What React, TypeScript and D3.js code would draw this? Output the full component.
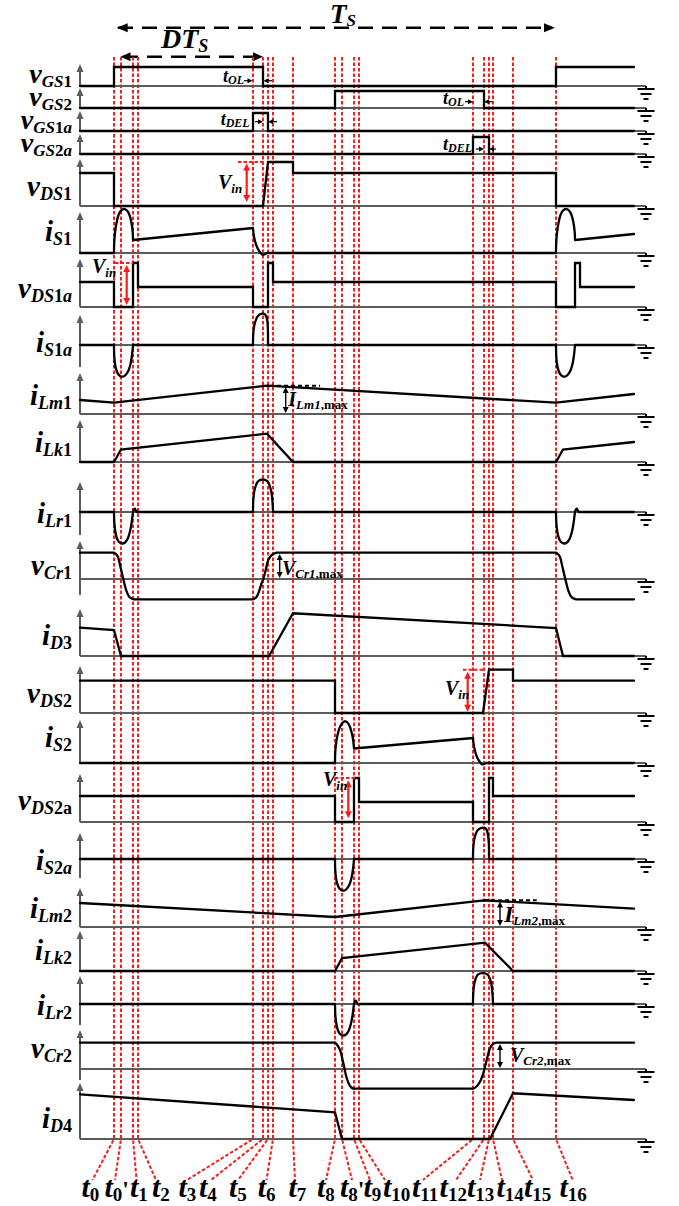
import React from 'react';
import * as d3 from 'd3';

type Pt = [number, number];
type Piece = ['L' | 'C', Pt[]];

// ---------- DATA ----------
// switching instants t0 ... t16 (time units)
const eventTimes = [0, 7, 19, 24, 139, 149, 154, 159, 179, 221, 228, 240, 245, 359, 370, 375, 379, 399, 442];
const eventLabels = ['0', "0'", '1', '2', '3', '4', '5', '6', '7', '8', "8'", '9', '10', '11', '12', '13', '14', '15', '16'];

const vGS1: Piece[] = [['L', [[-34, 0], [0, 0], [0, 19], [149, 19], [149, 0], [442, 0], [442, 19], [520, 19]]]];
const vGS2: Piece[] = [['L', [[-34, 0], [221, 0], [221, 17], [370, 17], [370, 0], [520, 0]]]];
const vGS1a: Piece[] = [['L', [[-34, 0], [139, 0], [139, 18], [154, 18], [154, 0], [520, 0]]]];
const vGS2a: Piece[] = [['L', [[-34, 0], [359, 0], [359, 17], [375, 17], [375, 0], [520, 0]]]];
const vDS1: Piece[] = [['L', [[-34, 33], [0, 33], [0, 0], [149, 0], [154, 44], [179, 44], [179, 33], [442, 33], [442, 0], [520, 0]]]];
const iS1: Piece[] = [
  ['L', [[-34, 0], [0, 0]]],
  ['C', [[0, 0], [0.2, 10], [1, 20], [2.5, 30], [4.5, 38], [7, 42.5], [10, 44], [13, 42.5], [15.5, 38], [17.5, 30], [18.7, 21], [19, 13]]],
  ['L', [[19, 13], [139, 25]]],
  ['C', [[139, 25], [139.6, 19], [141, 12], [143, 6], [145.5, 1.5], [148, -1.5], [150.5, -1.5], [152.5, -0.3], [154, 0]]],
  ['L', [[154, 0], [442, 0]]],
  ['C', [[442, 0], [442.2, 10], [443, 20], [444.5, 30], [446.5, 38], [449, 42.5], [452, 44], [455, 42.5], [457.5, 38], [459.5, 30], [460.7, 21], [461, 13]]],
  ['L', [[461, 13], [520, 19]]],
];
const vDS1a: Piece[] = [['L', [[-34, 25], [0, 25], [0, 0], [19, 0], [19, 44], [24, 44], [24, 20], [139, 20], [139, 0], [154, 0], [154, 44], [159, 44], [159, 25], [442, 25], [442, 0], [461, 0], [461, 44], [466, 44], [466, 20], [520, 20]]]];
const iS1a: Piece[] = [
  ['L', [[-34, 0], [0, 0]]],
  ['C', [[0, 0], [0.2, -10], [1, -19], [2.5, -25.5], [4.5, -29.5], [7, -31.5], [9.5, -31.5], [12, -29.5], [14.5, -25.5], [16.5, -19], [18, -10], [19, 0]]],
  ['L', [[19, 0], [139, 0]]],
  ['C', [[139, 0], [139.2, 10], [140, 18], [141.5, 24], [143.5, 28.5], [146, 30.8], [149, 31.3], [151.5, 30], [153.2, 25], [153.9, 16], [154, 8], [154, 0]]],
  ['L', [[154, 0], [442, 0]]],
  ['C', [[442, 0], [442.2, -10], [443, -19], [444.5, -25.5], [446.5, -29.5], [449, -31.5], [451.5, -31.5], [454, -29.5], [456.5, -25.5], [458.5, -19], [460, -10], [461, 0]]],
  ['L', [[461, 0], [520, 0]]],
];
const iLm1: Piece[] = [['L', [[-34, 14], [0, 11.3], [153, 28.3], [442, 11.3], [520, 20]]]];
const iLk1: Piece[] = [['L', [[-34, 0], [0, 0], [7, 12.5], [153, 28.3], [179, 0], [442, 0], [449, 12.5], [520, 20]]]];
const iLr1: Piece[] = [
  ['L', [[-34, 0], [0, 0]]],
  ['C', [[0, 0], [0.3, -10], [1.2, -19], [2.8, -26], [5, -30], [8, -31.5], [11, -30.5], [13.8, -26.5], [16, -19.5], [17.6, -11], [18.6, -3], [19.5, 2], [20.8, 3.3], [21.8, 1.5], [22.6, 0]]],
  ['L', [[22.6, 0], [139, 0]]],
  ['C', [[139, 0], [139.2, 10], [140, 19], [141.5, 25.5], [143.5, 30], [146, 32], [148.7, 32.5], [151.5, 32], [154, 30], [156, 25.5], [157.5, 19], [158.5, 10], [159, 0]]],
  ['L', [[159, 0], [442, 0]]],
  ['C', [[442, 0], [442.3, -10], [443.2, -19], [444.8, -26], [447, -30], [450, -31.5], [453, -30.5], [455.8, -26.5], [458, -19.5], [459.6, -11], [460.6, -3], [461.5, 2], [462.8, 3.3], [463.8, 1.5], [464.6, 0]]],
  ['L', [[464.6, 0], [520, 0]]],
];
const vCr1: Piece[] = [
  ['L', [[-34, 26.3], [0, 26.3]]],
  ['C', [[0, 26.3], [2, 25], [4, 22], [6, 14], [9.3, 0], [12.7, -12.7], [15, -17.5], [17.7, -19.6], [20, -20.3]]],
  ['L', [[20, -20.3], [139, -20.3]]],
  ['C', [[139, -20.3], [142.7, -17.7], [147.7, -4], [149.3, 0], [151.7, 9], [154.3, 19], [157.7, 24], [162.7, 26.3]]],
  ['L', [[162.7, 26.3], [442, 26.3]]],
  ['C', [[442, 26.3], [444, 25], [446, 22], [448, 14], [451.3, 0], [454.7, -12.7], [457, -17.5], [459.7, -19.6], [462, -20.3]]],
  ['L', [[462, -20.3], [520, -20.3]]],
];
const iD3: Piece[] = [['L', [[-34, 28.3], [0, 26], [7, 0], [155, 0], [179, 42.7], [442, 28], [449, 0], [520, 0]]]];
const vDS2: Piece[] = [['L', [[-34, 32.3], [221, 32.3], [221, 0], [369, 0], [375, 43.3], [399, 43.3], [399, 32.3], [520, 32.3]]]];
const iS2: Piece[] = [
  ['L', [[-34, 0], [221, 0]]],
  ['C', [[221, 0], [221.2, 10], [222, 19], [223.5, 28], [225.5, 35], [228, 39.5], [230.5, 41.7], [233.5, 40.5], [236, 36], [238, 29], [239.4, 21], [240, 14.5]]],
  ['L', [[240, 14.5], [359, 25]]],
  ['C', [[359, 25], [359.6, 19], [361, 12], [363, 6], [365.5, 1.5], [368, -1.3], [370.5, -1], [372, 0]]],
  ['L', [[372, 0], [520, 0]]],
];
const vDS2a: Piece[] = [['L', [[-34, 26], [221, 26], [221, 0], [240, 0], [240, 44], [245, 44], [245, 20], [359, 20], [359, 0], [375, 0], [375, 44], [379, 44], [379, 26], [520, 26]]]];
const iS2a: Piece[] = [
  ['L', [[-34, 0], [221, 0]]],
  ['C', [[221, 0], [221.2, -10], [222, -19], [223.5, -25.5], [225.5, -29.5], [228, -31.5], [230.5, -31.5], [233, -29.5], [235.5, -25.5], [237.5, -19], [239, -10], [240, 0]]],
  ['L', [[240, 0], [359, 0]]],
  ['C', [[359, 0], [359.2, 10], [360, 18], [361.5, 24.5], [363.5, 28.5], [366.5, 30.8], [370, 31.3], [372.5, 29.5], [374, 24], [374.8, 16], [375, 8], [375, 0]]],
  ['L', [[375, 0], [520, 0]]],
];
const iLm2: Piece[] = [['L', [[-34, 24], [221, 10], [370, 26.7], [520, 18.4]]]];
const iLk2: Piece[] = [['L', [[-34, 0], [221, 0], [228, 13], [371, 28.4], [399, 0], [520, 0]]]];
const iLr2: Piece[] = [
  ['L', [[-34, 0], [221, 0]]],
  ['C', [[221, 0], [221.3, -10], [222.2, -19], [223.8, -26], [226, -30], [229, -31.5], [232, -30.5], [234.8, -26.5], [237, -19.5], [238.6, -11], [239.6, -3], [240.5, 2], [241.8, 3.3], [242.8, 1.5], [243.6, 0]]],
  ['L', [[243.6, 0], [359, 0]]],
  ['C', [[359, 0], [359.2, 10], [360, 19], [361.5, 25], [363.5, 29], [366, 30.5], [368.7, 30.8], [371.5, 30.5], [374, 29], [376, 25], [377.5, 19], [378.5, 10], [379, 0]]],
  ['L', [[379, 0], [520, 0]]],
];
const vCr2: Piece[] = [
  ['L', [[-34, 26.3], [221, 26.3]]],
  ['C', [[221, 26.3], [222.5, 25], [226, 19], [229.3, 6], [232.7, -9], [236, -17], [239.3, -19.7], [241, -19.7]]],
  ['L', [[241, -19.7], [359, -19.7]]],
  ['C', [[359, -19.7], [362, -18], [366, -12.7], [369.3, -4.3], [372.7, 9], [376, 20.7], [379, 25], [382.7, 26.3]]],
  ['L', [[382.7, 26.3], [520, 26.3]]],
];
const iD4: Piece[] = [['L', [[-34, 44.7], [221, 26.7], [228, 0], [376, 0], [399, 45.7], [520, 39]]]];

const waveforms: Piece[][] = [vGS1, vGS2, vGS1a, vGS2a, vDS1, iS1, vDS1a, iS1a, iLm1, iLk1, iLr1, vCr1, iD3, vDS2, iS2, vDS2a, iS2a, iLm2, iLk2, iLr2, vCr2, iD4];

// label: main symbol + subscript pieces [text, italic]
const rowMain = ['v', 'v', 'v', 'v', 'v', 'i', 'v', 'i', 'i', 'i', 'i', 'v', 'i', 'v', 'i', 'v', 'i', 'i', 'i', 'i', 'v', 'i'];
const rowSub: [string, boolean][][] = [
  [['GS', true], ['1', false]],
  [['GS', true], ['2', false]],
  [['GS', true], ['1', false], ['a', true]],
  [['GS', true], ['2', false], ['a', true]],
  [['DS', true], ['1', false]],
  [['S', true], ['1', false]],
  [['DS', true], ['1', false], ['a', true]],
  [['S', true], ['1', false], ['a', true]],
  [['Lm', true], ['1', false]],
  [['Lk', true], ['1', false]],
  [['Lr', true], ['1', false]],
  [['Cr', true], ['1', false]],
  [['D', true], ['3', false]],
  [['DS', true], ['2', false]],
  [['S', true], ['2', false]],
  [['DS', true], ['2a', false]],
  [['S', true], ['2', false], ['a', true]],
  [['Lm', true], ['2', false]],
  [['Lk', true], ['2', false]],
  [['Lr', true], ['2', false]],
  [['Cr', true], ['2', false]],
  [['D', true], ['4', false]],
];

// ---------- LAYOUT ----------
const rowLayout = [
  { y0: 86, top: 64, bottom: 86, labelY: 83, fs: 28, ss: 17 },
  { y0: 108, top: 88, bottom: 108, labelY: 106, fs: 28, ss: 17 },
  { y0: 131, top: 111, bottom: 131, labelY: 129, fs: 28, ss: 17 },
  { y0: 154, top: 134, bottom: 154, labelY: 152, fs: 28, ss: 17 },
  { y0: 206, top: 159, bottom: 206, labelY: 196, fs: 29, ss: 18 },
  { y0: 253, top: 212, bottom: 253, labelY: 241, fs: 29, ss: 18 },
  { y0: 307, top: 259, bottom: 307, labelY: 298, fs: 29, ss: 18 },
  { y0: 345, top: 315, bottom: 367, labelY: 352, fs: 29, ss: 18 },
  { y0: 414, top: 373, bottom: 414, labelY: 405, fs: 29, ss: 18 },
  { y0: 462, top: 420, bottom: 462, labelY: 452, fs: 29, ss: 18 },
  { y0: 512, top: 482, bottom: 535, labelY: 523, fs: 29, ss: 18 },
  { y0: 579, top: 541, bottom: 595, labelY: 575, fs: 29, ss: 18 },
  { y0: 656, top: 609, bottom: 656, labelY: 645, fs: 29, ss: 18 },
  { y0: 713, top: 666, bottom: 713, labelY: 703, fs: 29, ss: 18 },
  { y0: 763, top: 720, bottom: 763, labelY: 747, fs: 29, ss: 18 },
  { y0: 822, top: 774, bottom: 822, labelY: 810, fs: 29, ss: 18 },
  { y0: 859, top: 833, bottom: 878, labelY: 870, fs: 29, ss: 18 },
  { y0: 927, top: 888, bottom: 927, labelY: 918, fs: 29, ss: 18 },
  { y0: 971, top: 931, bottom: 971, labelY: 960, fs: 29, ss: 18 },
  { y0: 1004, top: 976, bottom: 1025, labelY: 1015, fs: 29, ss: 18 },
  { y0: 1069, top: 1030, bottom: 1080, labelY: 1058, fs: 29, ss: 18 },
  { y0: 1139, top: 1083, bottom: 1139, labelY: 1128, fs: 29, ss: 18 },
];
const tickLabelLeft = [81.5, 104.4, 130, 152, 178.4, 199, 229, 257.7, 288.5, 317, 340, 363.4, 383, 412, 439.6, 467, 496.5, 524, 559.5];
const tickLineEnd = [92.5, 115, 136.6, 156, 187, 211, 238, 266.5, 295, 326, 352, 370, 385, 423, 456, 480, 502, 533, 572.7];

const vinMarks = [
  { row: 4, t: 132.7, top: 42.5, bot: 4, g0: 124, g1: 151, gv: 44, tt: 104, tv: 17 },
  { row: 6, t: 12.7, top: 42, bot: 2, g0: 1, g1: 19, gv: 44, tt: -22, tv: 34 },
  { row: 13, t: 353.7, top: 41.3, bot: 1.3, g0: 349, g1: 369, gv: 43.3, tt: 331, tv: 18.3 },
  { row: 15, t: 234.3, top: 41.7, bot: 3.7, g0: 221, g1: 241, gv: 44, tt: 209, tv: 35.7 },
];
const delayMarks = [
  { row: 0, sub: 'OL', tt: 109, tv: 4, av: 5.3, r: [130, 138.5], l: [158, 149.5] },
  { row: 1, sub: 'OL', tt: 329, tv: 4, av: 6.3, r: [351, 359], l: [378, 370] },
  { row: 2, sub: 'DEL', tt: 106.7, tv: 6, av: 9.3, r: [141, 149], l: [163, 154] },
  { row: 3, sub: 'DEL', tt: 329, tv: 4, av: 5, r: [362, 370], l: [382, 375] },
];
const maxMarks = [
  { row: 8, sym: 'I', sub: 'Lm1', t: 171.7, top: 27, bot: 1, dash: [156, 206], dv: 28.3, tt: 174.3, tv: 8, size: 20 },
  { row: 17, sym: 'I', sub: 'Lm2', t: 386, top: 25.5, bot: 1, dash: [370, 422.7], dv: 26.7, tt: 390, tv: 4.7, size: 24 },
  { row: 11, sym: 'V', sub: 'Cr1', t: 165.7, top: 25, bot: 1, dash: null, dv: 0, tt: 168, tv: 4, size: 20 },
  { row: 20, sym: 'V', sub: 'Cr2', t: 386, top: 25, bot: 1, dash: null, dv: 0, tt: 396, tv: 7, size: 20 },
];

const FONT = "'Liberation Serif', 'Times New Roman', Times, serif";
const GRAY = '#5c5c5c';
const RED = '#ff1a1a';
const W = 679, H = 1206;
const RED_TOP = 57, RED_BOT = 1139, LABEL_TOP = 1180;

const x = d3.scaleLinear().domain([-34, 532]).range([80, 646]);
const rowY = (y0: number) => d3.scaleLinear().domain([0, 50]).range([y0, y0 - 50]);

function head(px: number, py: number, dir: 'up' | 'down' | 'left' | 'right', len = 6, hw = 3) {
  switch (dir) {
    case 'up': return `${px},${py} ${px - hw},${py + len} ${px + hw},${py + len}`;
    case 'down': return `${px},${py} ${px - hw},${py - len} ${px + hw},${py - len}`;
    case 'left': return `${px},${py} ${px + len},${py - hw} ${px + len},${py + hw}`;
    default: return `${px},${py} ${px - len},${py - hw} ${px - len},${py + hw}`;
  }
}

function wavePath(pieces: Piece[], y: d3.ScaleLinear<number, number>) {
  return pieces
    .map(([kind, pts]) => {
      const gen = d3
        .line<Pt>()
        .x((d) => x(d[0]))
        .y((d) => y(d[1]))
        .curve(kind === 'C' ? d3.curveCatmullRom.alpha(0.5) : d3.curveLinear);
      return gen(pts) || '';
    })
    .join(' ');
}

export default function App() {
  return (
    <svg width={W} height={H} style={{ position: 'absolute', left: 0, top: 0, background: '#fff' }} fontFamily={FONT}>
      <rect x={0} y={0} width={W} height={H} fill="#fff" />
      {/* period arrows */}
      <g>
        <line x1={x(4)} x2={x(436)} y1={27.7} y2={27.7} stroke="#000" strokeWidth={2.5} strokeDasharray="15,9" />
        <polygon points={head(x(2.7), 27.7, 'left', 11, 4.5)} fill="#000" />
        <polygon points={head(x(441), 27.7, 'right', 11, 4.5)} fill="#000" />
        <text x={330} y={23} fontWeight="bold">
          <tspan fontSize={27} fontStyle="italic">T</tspan>
          <tspan fontSize={17} fontStyle="italic" dy={3}>S</tspan>
        </text>
        <line x1={x(9)} x2={x(144)} y1={56.7} y2={56.7} stroke="#000" strokeWidth={2.5} strokeDasharray="15,9" />
        <polygon points={head(x(6.5), 56.7, 'left', 10, 4.5)} fill="#000" />
        <polygon points={head(x(149), 56.7, 'right', 10, 4.5)} fill="#000" />
        <text x={161} y={48} fontWeight="bold">
          <tspan fontSize={28} fontStyle="italic">DT</tspan>
          <tspan fontSize={18} fontStyle="italic" dy={4}>S</tspan>
        </text>
      </g>

      {/* red timing lines */}
      <g>
        {eventTimes.map((t, i) => (
          <path
            key={i}
            d={`M${x(t)},${RED_TOP} V${RED_BOT} L${tickLineEnd[i]},${LABEL_TOP}`}
            fill="none"
            stroke={RED}
            strokeWidth={2}
            strokeDasharray="3.5,2"
          />
        ))}
      </g>

      {/* rows */}
      {rowLayout.map((r, i) => {
        const y = rowY(r.y0);
        return (
          <g key={i}>
            <line x1={80} x2={x(532)} y1={r.y0} y2={r.y0} stroke={GRAY} strokeWidth={2} />
            <line x1={80} x2={80} y1={r.bottom} y2={r.top + 6} stroke={GRAY} strokeWidth={2} />
            <polygon points={head(80, r.top, 'up', 8, 3.5)} fill={GRAY} />
            <g stroke="#000" strokeWidth={2}>
              <line x1={x(532)} x2={x(532)} y1={r.y0} y2={r.y0 + 3} />
              <line x1={x(532) - 8.5} x2={x(532) + 8.5} y1={r.y0 + 3} y2={r.y0 + 3} />
              <line x1={x(532) - 5.5} x2={x(532) + 5.5} y1={r.y0 + 8} y2={r.y0 + 8} />
              <line x1={x(532) - 2.5} x2={x(532) + 2.5} y1={r.y0 + 13} y2={r.y0 + 13} />
            </g>
            <path d={wavePath(waveforms[i], y)} fill="none" stroke="#000" strokeWidth={2.3} strokeLinecap="round" />
            <text x={72} y={r.labelY} textAnchor="end" fontWeight="bold">
              <tspan fontSize={r.fs} fontStyle="italic">{rowMain[i]}</tspan>
              {rowSub[i].map(([s, it], k) => (
                <tspan key={k} fontSize={r.ss} fontStyle={it ? 'italic' : 'normal'} dy={k === 0 ? 4 : 0}>
                  {s}
                </tspan>
              ))}
            </text>
          </g>
        );
      })}

      {/* Vin annotations */}
      {vinMarks.map((m, i) => {
        const y = rowY(rowLayout[m.row].y0);
        return (
          <g key={i}>
            <line x1={x(m.g0)} x2={x(m.g1)} y1={y(m.gv)} y2={y(m.gv)} stroke={RED} strokeWidth={2} strokeDasharray="3.5,2" />
            <line x1={x(m.t)} x2={x(m.t)} y1={y(m.top) + 5} y2={y(m.bot) - 5} stroke={RED} strokeWidth={2.2} />
            <polygon points={head(x(m.t), y(m.top), 'up', 7, 3.5)} fill={RED} />
            <polygon points={head(x(m.t), y(m.bot), 'down', 7, 3.5)} fill={RED} />
            <text x={x(m.tt)} y={y(m.tv)} fontWeight="bold">
              <tspan fontSize={20} fontStyle="italic">V</tspan>
              <tspan fontSize={13} fontStyle="italic" dy={4}>in</tspan>
            </text>
          </g>
        );
      })}

      {/* tOL / tDEL */}
      {delayMarks.map((m, i) => {
        const y = rowY(rowLayout[m.row].y0);
        const ay = y(m.av);
        return (
          <g key={i}>
            <text x={x(m.tt)} y={y(m.tv)} fontWeight="bold">
              <tspan fontSize={18} fontStyle="italic">t</tspan>
              <tspan fontSize={12} fontStyle="italic" dy={2}>{m.sub}</tspan>
            </text>
            <line x1={x(m.r[0])} x2={x(m.r[1]) - 4} y1={ay} y2={ay} stroke="#000" strokeWidth={1.2} />
            <polygon points={head(x(m.r[1]), ay, 'right', 5, 2.5)} fill="#000" />
            <line x1={x(m.l[0])} x2={x(m.l[1]) + 4} y1={ay} y2={ay} stroke="#000" strokeWidth={1.2} />
            <polygon points={head(x(m.l[1]), ay, 'left', 5, 2.5)} fill="#000" />
          </g>
        );
      })}

      {/* max annotations */}
      {maxMarks.map((m, i) => {
        const y = rowY(rowLayout[m.row].y0);
        return (
          <g key={i}>
            {m.dash && (
              <line x1={x(m.dash[0])} x2={x(m.dash[1])} y1={y(m.dv)} y2={y(m.dv)} stroke="#000" strokeWidth={2} strokeDasharray="4,3" />
            )}
            <line x1={x(m.t)} x2={x(m.t)} y1={y(m.top) + 4} y2={y(m.bot) - 4} stroke="#000" strokeWidth={1.4} />
            <polygon points={head(x(m.t), y(m.top), 'up', 6, 3)} fill="#000" />
            <polygon points={head(x(m.t), y(m.bot), 'down', 6, 3)} fill="#000" />
            <text x={x(m.tt)} y={y(m.tv)} fontWeight="bold">
              <tspan fontSize={m.size} fontStyle="italic">{m.sym}</tspan>
              <tspan fontSize={13} fontStyle="italic" dy={3}>{m.sub}</tspan>
              <tspan fontSize={13} fontStyle="normal">,max</tspan>
            </text>
          </g>
        );
      })}

      {/* t labels */}
      {eventLabels.map((lab, i) => {
        const prime = lab.endsWith("'");
        const sub = prime ? lab.slice(0, -1) : lab;
        return (
          <text key={i} x={tickLabelLeft[i]} y={1197} fontWeight="bold">
            <tspan fontSize={30} fontStyle="italic">t</tspan>
            <tspan fontSize={19} dy={4}>{sub}</tspan>
            {prime && (
              <tspan fontSize={24} dy={-4}>'</tspan>
            )}
          </text>
        );
      })}
    </svg>
  );
}
